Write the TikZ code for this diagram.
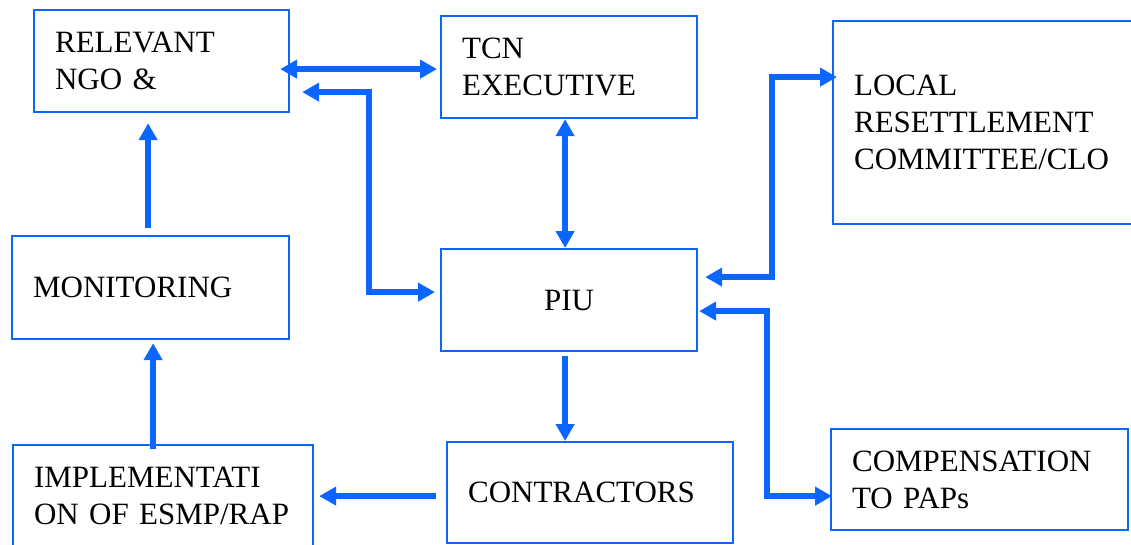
\documentclass[tikz,border=0pt]{standalone}
\usepackage{fontspec}
\setmainfont{LiberationSerif}[Extension=.ttf,UprightFont=*-Regular,BoldFont=*-Bold]
\usetikzlibrary{arrows.meta,positioning,calc}
\definecolor{vblue}{HTML}{0A66FF}
\newcommand{\boxfont}{\rmfamily\fontsize{31pt}{37pt}\selectfont}
\tikzset{
  box/.style={draw=vblue,line width=2.2pt,rectangle,anchor=north west,inner xsep=21pt,inner ysep=0pt,align=left,font=\boxfont},
  arr/.style={-{Triangle[length=17pt,width=18pt]},line width=6pt,draw=vblue},
  darr/.style={{Triangle[length=17pt,width=18pt]}-{Triangle[length=17pt,width=18pt]},line width=6pt,draw=vblue},
}
\begin{document}
\begin{tikzpicture}[x=1pt,y=-1pt]
  \useasboundingbox (0,0) rectangle (1131,544);
  \clip (0,0) rectangle (1131,544);
  % boxes
  \node[box,text width=213pt,minimum height=102pt] (ngo) at (33,9) {RELEVANT\\NGO \&};
  \node[box,text width=214pt,minimum height=102pt] (tcn) at (440,15) {TCN\\EXECUTIVE};
  \node[box,text width=278pt,minimum height=203pt] (local) at (832,20) {LOCAL\\RESETTLEMENT\\COMMITTEE/CLO};
  \node[box,text width=235pt,minimum height=103pt] (mon) at (11,235) {MONITORING};
  \node[box,text width=214pt,minimum height=102pt,align=center] (piu) at (440,248) {PIU};
  \node[box,text width=258pt,minimum height=101pt] (impl) at (12,444) {IMPLEMENTATI\\ON OF ESMP/RAP};
  \node[box,text width=244pt,minimum height=101pt] (contr) at (446,441) {CONTRACTORS};
  \node[box,text width=255pt,minimum height=101pt] (comp) at (830,428) {COMPENSATION\\TO PAPs};
  % links
  \draw[darr] ([shift={(-10pt,-8pt)}]ngo.east) -- ([shift={(-3pt,-2pt)}]tcn.west);
  \draw[darr] ([shift={(12pt,-31pt)}]ngo.east) -- ++(67,0) |- ([shift={(-5pt,8pt)}]piu.west);
  \draw[darr] ([xshift=-4pt]tcn.south) -- ([xshift=-4pt]piu.north);
  \draw[darr] ([shift={(7pt,23pt)}]piu.east) -- ++(67,0) |- ([shift={(5pt,45.5pt)}]local.west);
  \draw[darr] ([shift={(1pt,-11pt)}]piu.east) -- ++(68,0) |- ([shift={(2pt,-16.5pt)}]comp.west);
  \coordinate (pb) at ([shift={(-4pt,-4pt)}]piu.south);
  \draw[arr] (pb) -- (pb |- contr.north);
  \coordinate (cw) at ([shift={(-10pt,-3.5pt)}]contr.west);
  \draw[arr,shorten >=5pt] (cw) -- (cw -| impl.east);
  \coordinate (ib) at ([shift={(-10pt,-5pt)}]impl.north);
  \draw[arr,shorten >=3pt] (ib) -- (ib |- mon.south);
  \coordinate (mt) at ([shift={(-2.5pt,7pt)}]mon.north);
  \draw[arr,shorten >=10pt] (mt) -- (mt |- ngo.south);
\end{tikzpicture}
\end{document}
